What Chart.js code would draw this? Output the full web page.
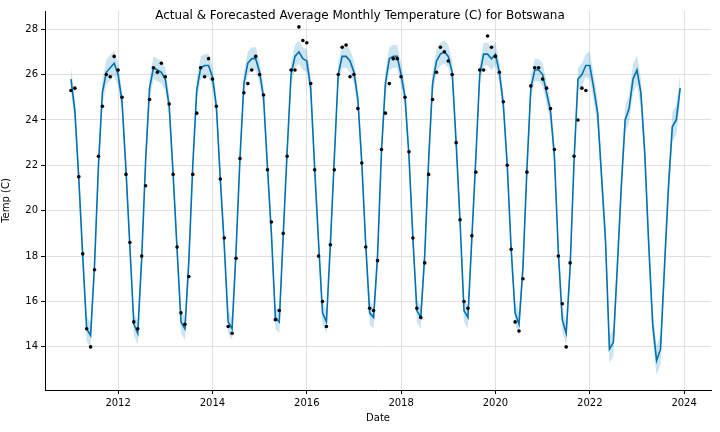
<!DOCTYPE html>
<html>
<head>
<script src="https://cdn.jsdelivr.net/npm/chart.js@4/dist/chart.umd.min.js"></script>
<style>
  body { margin: 0; background: #fff; }
  #wrap { width: 720px; height: 432px; position: relative; }
  #title { position: absolute; top: 8px; left: 0; width: 720px; text-align: center;
           font: 12px "DejaVu Sans"; color: #000; z-index: 2; }
</style>
</head>
<body>
<div id="wrap">
  <div id="title">Actual &amp; Forecasted Average Monthly Temperature (C) for Botswana</div>
  <canvas id="myChart" width="720" height="432"></canvas>
</div>
<script>
// Observed monthly averages, Jan 2011 .. Dec 2021
var actualByYear = [
  [25.3, 25.4, 21.5, 18.1, 14.8, 14.0, 17.4, 22.4, 24.6, 26.0, 25.9, 26.8],
  [26.2, 25.0, 21.6, 18.6, 15.1, 14.8, 18.0, 21.1, 24.9, 26.3, 26.1, 26.5],
  [25.9, 24.7, 21.6, 18.4, 15.5, 15.0, 17.1, 21.6, 24.3, 26.3, 25.9, 26.7],
  [25.8, 24.6, 21.4, 18.8, 14.9, 14.6, 17.9, 22.3, 25.2, 25.6, 26.2, 26.8],
  [26.0, 25.1, 21.8, 19.5, 15.2, 15.6, 19.0, 22.4, 26.2, 26.2, 28.1, 27.5],
  [27.4, 25.6, 21.8, 18.0, 16.0, 14.9, 18.5, 21.8, 26.0, 27.2, 27.3, 25.9],
  [26.0, 24.5, 22.1, 18.4, 15.7, 15.6, 17.8, 22.7, 24.3, 25.6, 26.7, 26.7],
  [25.9, 25.0, 22.6, 18.8, 15.7, 15.3, 17.7, 21.6, 24.9, 26.1, 27.2, 27.0],
  [26.6, 26.0, 23.0, 19.6, 16.0, 15.7, 18.9, 21.7, 26.2, 26.2, 27.7, 27.2],
  [26.8, 26.1, 24.8, 22.0, 18.3, 15.1, 14.7, 17.0, 21.7, 25.5, 26.3, 26.3],
  [25.8, 25.4, 24.5, 22.7, 18.0, 15.9, 14.0, 17.7, 22.4, 24.0, 25.4, 25.3]
];
// Model fit + forecast, Jan 2011 .. Dec 2023
var forecastByYear = [
  [25.8, 24.4, 21.4, 18.0, 14.8, 14.5, 17.6, 22.0, 25.2, 26.1, 26.3, 26.5],
  [26.0, 24.8, 21.8, 18.4, 15.0, 14.6, 17.9, 22.2, 25.4, 26.3, 26.2, 26.1],
  [25.8, 24.6, 21.6, 18.3, 15.1, 14.8, 17.8, 22.0, 25.3, 26.3, 26.4, 26.4],
  [25.9, 24.6, 21.4, 18.5, 15.1, 14.8, 18.2, 22.3, 25.6, 26.5, 26.7, 26.7],
  [26.1, 25.0, 21.9, 19.0, 15.3, 15.1, 18.9, 22.6, 26.0, 26.8, 27.0, 26.7],
  [26.6, 25.4, 21.9, 18.6, 15.5, 15.1, 18.5, 22.3, 26.0, 26.8, 26.8, 26.6],
  [26.1, 24.9, 22.1, 18.5, 15.5, 15.3, 18.0, 22.6, 25.6, 26.7, 26.8, 26.8],
  [26.0, 25.0, 22.4, 18.8, 15.6, 15.3, 18.0, 22.2, 25.6, 26.6, 26.9, 27.0],
  [26.8, 26.1, 23.0, 19.5, 15.6, 15.3, 18.8, 22.3, 26.0, 26.9, 26.9, 26.7],
  [26.9, 26.1, 24.7, 22.0, 18.3, 15.5, 15.0, 17.5, 21.8, 25.4, 26.2, 26.2],
  [26.0, 25.2, 24.4, 22.4, 18.2, 15.2, 14.6, 17.5, 22.2, 25.8, 26.0, 26.4],
  [26.4, 25.4, 24.3, 21.5, 18.7, 13.9, 14.2, 17.5, 21.0, 24.0, 24.5, 25.8],
  [26.2, 25.2, 22.5, 18.5, 15.0, 13.4, 13.9, 17.5, 21.0, 23.7, 24.0, 25.4]
];
// Half-width of the uncertainty band per year
var bandHalfWidth = [0.55, 0.5, 0.5, 0.5, 0.5, 0.5, 0.5, 0.5, 0.5, 0.5, 0.5, 0.6, 0.65];
var startYear = 2011;
var xTicks = [2012, 2014, 2016, 2018, 2020, 2022, 2024];

var actualPts = [], fitPts = [], lowPts = [], highPts = [];
actualByYear.forEach(function (row, y) {
  row.forEach(function (v, m) { actualPts.push({ x: startYear + y + m / 12, y: v }); });
});
forecastByYear.forEach(function (row, y) {
  row.forEach(function (v, m) {
    var x = startYear + y + m / 12;
    fitPts.push({ x: x, y: v });
    lowPts.push({ x: x, y: v - bandHalfWidth[y] });
    highPts.push({ x: x, y: v + bandHalfWidth[y] });
  });
});

var font = { family: "DejaVu Sans", size: 10 };
var ctx = document.getElementById("myChart").getContext("2d");
new Chart(ctx, {
  type: "scatter",
  data: {
    datasets: [
      { label: "upper", data: highPts, showLine: true, pointRadius: 0, borderWidth: 0,
        backgroundColor: "rgba(0,114,178,0.2)", fill: "+1", order: 3 },
      { label: "lower", data: lowPts, showLine: true, pointRadius: 0, borderWidth: 0, fill: false, order: 3 },
      { label: "yhat", data: fitPts, showLine: true, pointRadius: 0, borderColor: "#0072B2",
        borderWidth: 1.6, fill: false, order: 2 },
      { label: "actual", data: actualPts, pointRadius: 1.8, backgroundColor: "#000", borderWidth: 0, order: 1 }
    ]
  },
  options: {
    responsive: false,
    animation: false,
    layout: { padding: { top: 11, right: 9, left: 0, bottom: 8 } },
    plugins: { legend: { display: false }, tooltip: { enabled: false } },
    scales: {
      x: {
        type: "linear", min: 2010.45, max: 2024.57,
        afterBuildTicks: function (a) { a.ticks = xTicks.map(function (v) { return { value: v }; }); },
        ticks: { font: font, color: "#000", callback: function (v) { return v; } },
        grid: { color: "#e0e0e0", tickColor: "#000", tickLength: 4 },
        border: { color: "#000" },
        title: { display: true, text: "Date", font: font, color: "#000", padding: 0 }
      },
      y: {
        min: 12.1, max: 28.8,
        afterBuildTicks: function (a) { a.ticks = [14, 16, 18, 20, 22, 24, 26, 28].map(function (v) { return { value: v }; }); },
        afterFit: function (a) { a.width = 45; },
        ticks: { font: font, color: "#000" },
        grid: { color: "#e0e0e0", tickColor: "#000", tickLength: 4 },
        border: { color: "#000" },
        title: { display: true, text: "Temp (C)", font: font, color: "#000", padding: 0 }
      }
    }
  }
});
</script>
</body>
</html>
